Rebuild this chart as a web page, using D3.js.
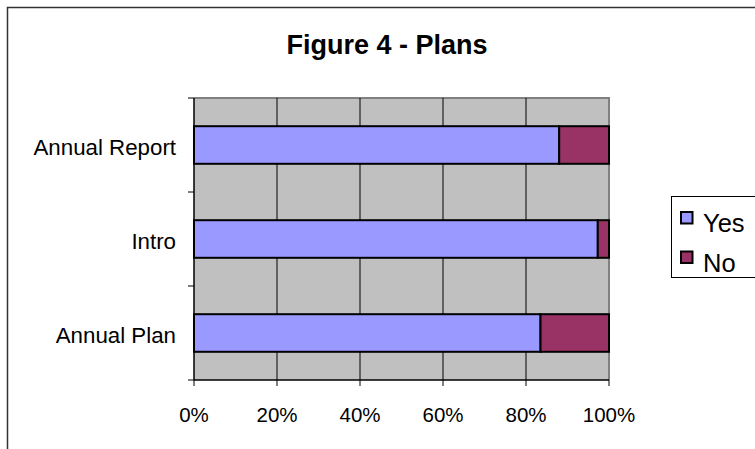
<!DOCTYPE html>
<html lang="en">
  <head>
    <meta charset="UTF-8" />
    <title>Figure 4 - Plans</title>
    <script src="https://d3js.org/d3.v7.min.js"></script>
    <style>
      body {
        margin: 0;
        background: #fff;
      }
      svg text {
        font-family: "Liberation Sans", Arial, sans-serif;
        fill: #000;
      }
    </style>
  </head>
  <body>
    <div id="chart"></div>

    <script>
      // data (percent of respondents)
      const categories = ["Annual Report", "Intro", "Annual Plan"];
      const yesValues = [88, 97.3, 83.5];
      const noValues = [12, 2.7, 16.5];
      const seriesNames = ["Yes", "No"];
      const seriesColors = ["#9999FF", "#993366"];
      const xTicks = [0, 20, 40, 60, 80, 100];

      const width = 755;
      const height = 449;
      const plot = { left: 194, right: 609, top: 98, bottom: 380 };

      const svg = d3
        .select("#chart")
        .append("svg")
        .attr("width", width)
        .attr("height", height);

      // outer chart frame (cut off on right and bottom like the original)
      svg
        .append("rect")
        .attr("x", 7.5)
        .attr("y", 7.5)
        .attr("width", width + 10)
        .attr("height", height + 10)
        .attr("fill", "#fff")
        .attr("stroke", "#333")
        .attr("stroke-width", 1.5);

      svg
        .append("text")
        .attr("x", 387)
        .attr("y", 54)
        .attr("text-anchor", "middle")
        .style("font-size", "27px")
        .style("font-weight", "bold")
        .text("Figure 4 - Plans");

      const x = d3.scaleLinear().domain([0, 100]).range([plot.left, plot.right]);
      const y = d3
        .scaleBand()
        .domain(categories)
        .range([plot.top, plot.bottom])
        .paddingInner(0.6)
        .paddingOuter(0.3);

      // plot background
      svg
        .append("rect")
        .attr("x", plot.left)
        .attr("y", plot.top)
        .attr("width", plot.right - plot.left)
        .attr("height", plot.bottom - plot.top)
        .attr("fill", "#C0C0C0");

      // top and right border of plot area
      svg
        .append("path")
        .attr("d", `M${plot.left},${plot.top}H${plot.right}V${plot.bottom}`)
        .attr("fill", "none")
        .attr("stroke", "#808080")
        .attr("stroke-width", 2);

      // vertical gridlines
      svg
        .append("g")
        .selectAll("line")
        .data(xTicks.slice(1, -1))
        .join("line")
        .attr("x1", (d) => x(d))
        .attr("x2", (d) => x(d))
        .attr("y1", plot.top)
        .attr("y2", plot.bottom)
        .attr("stroke", "#000")
        .attr("stroke-width", 1);

      // stacked bars
      const rows = categories.map((c, i) => ({
        name: c,
        Yes: yesValues[i],
        No: noValues[i],
      }));
      const stacked = d3.stack().keys(seriesNames)(rows);

      svg
        .append("g")
        .selectAll("g")
        .data(stacked)
        .join("g")
        .attr("fill", (d, i) => seriesColors[i])
        .selectAll("rect")
        .data((d) => d)
        .join("rect")
        .attr("x", (d) => x(d[0]))
        .attr("y", (d) => y(d.data.name))
        .attr("width", (d) => x(d[1]) - x(d[0]))
        .attr("height", y.bandwidth())
        .attr("stroke", "#000")
        .attr("stroke-width", 2);

      // y axis: line, ticks at band boundaries, labels
      const yAxis = svg.append("g");
      yAxis
        .append("line")
        .attr("x1", plot.left)
        .attr("x2", plot.left)
        .attr("y1", plot.top)
        .attr("y2", plot.bottom)
        .attr("stroke", "#000")
        .attr("stroke-width", 1.5);
      const yBounds = [plot.top].concat(
        categories.map((c) => y(c) + y.bandwidth() + (y.step() - y.bandwidth()) / 2)
      );
      yAxis
        .selectAll(".tick")
        .data(yBounds)
        .join("line")
        .attr("x1", plot.left - 6)
        .attr("x2", plot.left)
        .attr("y1", (d) => d)
        .attr("y2", (d) => d)
        .attr("stroke", "#000");
      yAxis
        .selectAll("text")
        .data(categories)
        .join("text")
        .attr("x", 176)
        .attr("y", (d) => y(d) + y.bandwidth() / 2)
        .attr("dy", "0.45em")
        .attr("text-anchor", "end")
        .style("font-size", "22.3px")
        .text((d) => d);

      // x axis
      const xAxis = svg.append("g");
      xAxis
        .append("line")
        .attr("x1", plot.left)
        .attr("x2", plot.right)
        .attr("y1", plot.bottom)
        .attr("y2", plot.bottom)
        .attr("stroke", "#000")
        .attr("stroke-width", 1.5);
      xAxis
        .selectAll(".tick")
        .data(xTicks)
        .join("line")
        .attr("x1", (d) => x(d))
        .attr("x2", (d) => x(d))
        .attr("y1", plot.bottom)
        .attr("y2", plot.bottom + 6)
        .attr("stroke", "#000");
      xAxis
        .selectAll("text")
        .data(xTicks)
        .join("text")
        .attr("x", (d) => x(d))
        .attr("y", 422)
        .attr("text-anchor", "middle")
        .style("font-size", "20.5px")
        .text((d) => d + "%");

      // legend
      const legend = svg.append("g");
      legend
        .append("rect")
        .attr("x", 671.5)
        .attr("y", 196.5)
        .attr("width", 100)
        .attr("height", 81)
        .attr("fill", "#fff")
        .attr("stroke", "#000")
        .attr("stroke-width", 1);
      const items = legend
        .selectAll(".item")
        .data(seriesNames)
        .join("g")
        .attr("transform", (d, i) => `translate(681,${212 + i * 39.5})`);
      items
        .append("rect")
        .attr("width", 11.5)
        .attr("height", 11.5)
        .attr("fill", (d, i) => seriesColors[i])
        .attr("stroke", "#000")
        .attr("stroke-width", 2);
      items
        .append("text")
        .attr("x", 22)
        .attr("y", 20)
        .style("font-size", "25.5px")
        .text((d) => d);
    </script>
  </body>
</html>
